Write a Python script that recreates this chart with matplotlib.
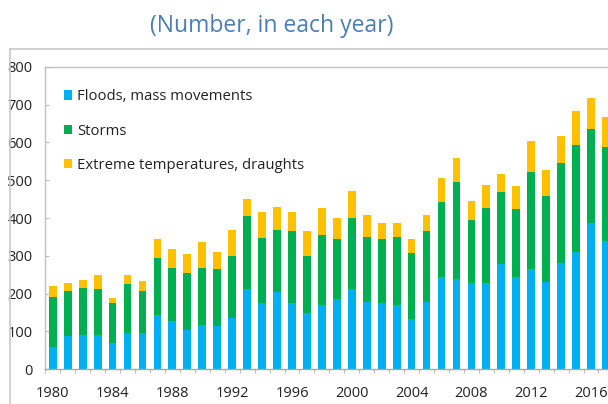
import matplotlib
matplotlib.use("Agg")
import matplotlib.pyplot as plt
from matplotlib.lines import Line2D
import numpy as np

plt.rcParams['font.family'] = ['Open Sans', 'DejaVu Sans']

# Number of disasters per year, by type
years = list(range(1980, 2018))
floods = [60, 89, 92, 92, 70, 96, 96, 143, 128, 103, 117, 114, 135, 211, 174, 204, 174, 150, 171,
          185, 211, 178, 174, 171, 132, 178, 243, 240, 228, 228, 278, 243, 264, 232, 282, 311, 387, 340]
storms = [132, 118, 122, 119, 104, 129, 111, 150, 140, 151, 151, 150, 165, 193, 173, 164, 191, 150, 183,
          159, 190, 173, 170, 180, 176, 187, 198, 254, 166, 198, 192, 180, 257, 227, 263, 281, 248, 249]
temps = [29, 22, 22, 39, 15, 25, 26, 51, 51, 50, 69, 47, 68, 47, 68, 62, 50, 65, 72,
         57, 71, 57, 43, 36, 36, 43, 64, 65, 50, 61, 46, 61, 82, 68, 72, 90, 83, 79]
labels = ['Floods, mass movements', 'Storms', 'Extreme temperatures, draughts']
colors = ['#00B0F0', '#00B050', '#FFC000']
tick_years = list(range(1980, 2017, 4))

W, H = 608, 404
fig = plt.figure(figsize=(W / 100, H / 100), dpi=100)

# axes in pixel coordinates; the right side runs off the picture like the cropped original
left, right, top, bottom = 45, 618, 66.7, 369.3
ax = fig.add_axes([left / W, (H - bottom) / H, (right - left) / W, (bottom - top) / H])

x = np.array(years)
floods = np.array(floods)
storms = np.array(storms)
temps = np.array(temps)
w = 0.52
ax.bar(x, floods, width=w, color=colors[0], label=labels[0])
ax.bar(x, storms, width=w, bottom=floods, color=colors[1], label=labels[1])
ax.bar(x, temps, width=w, bottom=floods + storms, color=colors[2], label=labels[2])

ax.set_xlim(1979.48, 1980 + (right - 52.8) / 14.95)
ax.set_ylim(0, 800)
ax.set_yticks(range(0, 801, 100))
ax.set_xticks(tick_years)
ax.set_xticks(np.arange(1979.5, 2018, 1), minor=True)

ax.tick_params(axis='y', direction='in', length=3, color='#BFBFBF', pad=9, labelsize=10.5,
               labelcolor='#222222')
ax.tick_params(axis='x', which='major', length=0, pad=12, labelsize=10.5, labelcolor='#222222')
ax.tick_params(axis='x', which='minor', length=3, color='#BFBFBF', width=0.8)

for s in ['top', 'left', 'right', 'bottom']:
    ax.spines[s].set_color('#BFBFBF')
    ax.spines[s].set_linewidth(1.0)
ax.spines['bottom'].set_color('#A6A6A6')

leg = ax.legend(loc='upper left', bbox_to_anchor=(0.022, 0.945), frameon=False, fontsize=10.7,
                handlelength=0.6, handleheight=0.6, handletextpad=0.3, labelspacing=1.3,
                borderaxespad=0)
for t in leg.get_texts():
    t.set_color('#222222')

# outer frame of the original figure
fig.add_artist(Line2D([10 / W, 1.0], [(H - 49) / H] * 2, color='#C8C8C8', lw=1.2))
fig.add_artist(Line2D([10 / W, 10 / W], [0, (H - 49) / H], color='#C8C8C8', lw=1.2))

fig.text(272 / W, (H - 26) / H, '(Number, in each year)', ha='center', va='center',
         fontsize=16.5, color='#4A7EB5')

fig.savefig('out.png', dpi=100)
